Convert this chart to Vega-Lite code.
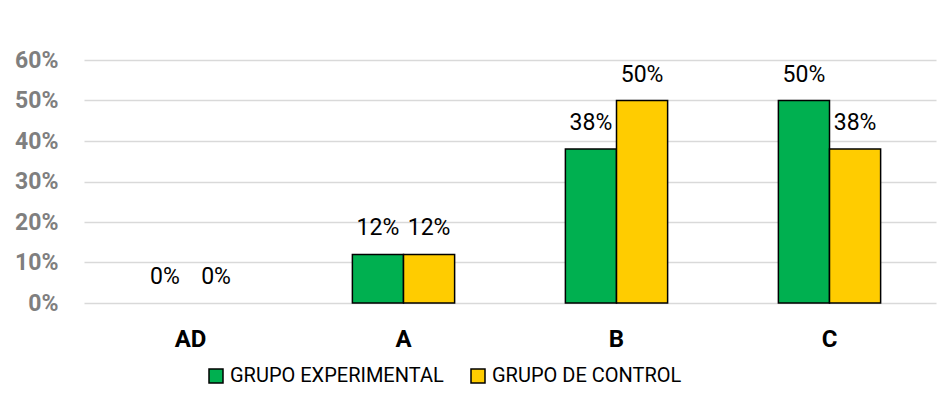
{
  "$schema": "https://vega.github.io/schema/vega-lite/v6.json",
  "width": 852,
  "height": 243,
  "autosize": "none",
  "padding": {"left": 84, "top": 60, "right": 3, "bottom": 97},
  "background": "white",
  "config": {"view": {"stroke": null}, "font": "Roboto"},
  "data": {
    "values": [
      {"nivel": "AD", "grupo": "GRUPO EXPERIMENTAL", "valor": 0},
      {"nivel": "AD", "grupo": "GRUPO DE CONTROL", "valor": 0},
      {"nivel": "A", "grupo": "GRUPO EXPERIMENTAL", "valor": 0.12},
      {"nivel": "A", "grupo": "GRUPO DE CONTROL", "valor": 0.12},
      {"nivel": "B", "grupo": "GRUPO EXPERIMENTAL", "valor": 0.38},
      {"nivel": "B", "grupo": "GRUPO DE CONTROL", "valor": 0.5},
      {"nivel": "C", "grupo": "GRUPO EXPERIMENTAL", "valor": 0.5},
      {"nivel": "C", "grupo": "GRUPO DE CONTROL", "valor": 0.38}
    ]
  },
  "encoding": {
    "x": {
      "field": "nivel",
      "type": "nominal",
      "sort": ["AD", "A", "B", "C"],
      "scale": {"paddingInner": 0.52, "paddingOuter": 0.26},
      "axis": {
        "title": null,
        "labelAngle": 0,
        "domain": false,
        "ticks": false,
        "labelPadding": 24,
        "labelFont": "Roboto",
        "labelFontSize": 24,
        "labelFontWeight": "bold",
        "labelColor": "#000000"
      }
    },
    "xOffset": {
      "field": "grupo",
      "type": "nominal",
      "sort": ["GRUPO EXPERIMENTAL", "GRUPO DE CONTROL"]
    },
    "y": {
      "field": "valor",
      "type": "quantitative",
      "scale": {"domain": [0, 0.6], "nice": false},
      "axis": {
        "title": null,
        "values": [0, 0.1, 0.2, 0.3, 0.4, 0.5, 0.6],
        "format": ".0%",
        "domain": false,
        "ticks": false,
        "labelPadding": 26,
        "labelFont": "Roboto",
        "labelFontSize": 23,
        "labelFontWeight": "bold",
        "labelColor": "#7f7f7f",
        "gridColor": "#d9d9d9",
        "gridWidth": 1.5
      }
    }
  },
  "layer": [
    {
      "transform": [{"filter": "datum.valor > 0"}],
      "mark": {"type": "bar", "stroke": "#000000", "strokeWidth": 1.5},
      "encoding": {
        "color": {
          "field": "grupo",
          "type": "nominal",
          "sort": ["GRUPO EXPERIMENTAL", "GRUPO DE CONTROL"],
          "scale": {
            "domain": ["GRUPO EXPERIMENTAL", "GRUPO DE CONTROL"],
            "range": ["#00b050", "#ffcc00"]
          },
          "legend": {
            "title": null,
            "orient": "none",
            "direction": "horizontal",
            "legendX": 122,
            "legendY": 306,
            "symbolType": "square",
            "symbolSize": 196,
            "symbolStrokeColor": "#000000",
            "symbolStrokeWidth": 1.5,
            "symbolOpacity": 1,
            "labelFont": "Roboto",
            "labelFontSize": 20,
            "labelColor": "#000000",
            "labelOffset": 4,
            "columnPadding": 24,
            "labelLimit": 400
          }
        }
      }
    },
    {
      "mark": {
        "type": "text",
        "baseline": "alphabetic",
        "dy": -19,
        "font": "Roboto",
        "fontSize": 23,
        "color": "#000000"
      },
      "encoding": {
        "text": {"field": "valor", "type": "quantitative", "format": ".0%"}
      }
    }
  ]
}
